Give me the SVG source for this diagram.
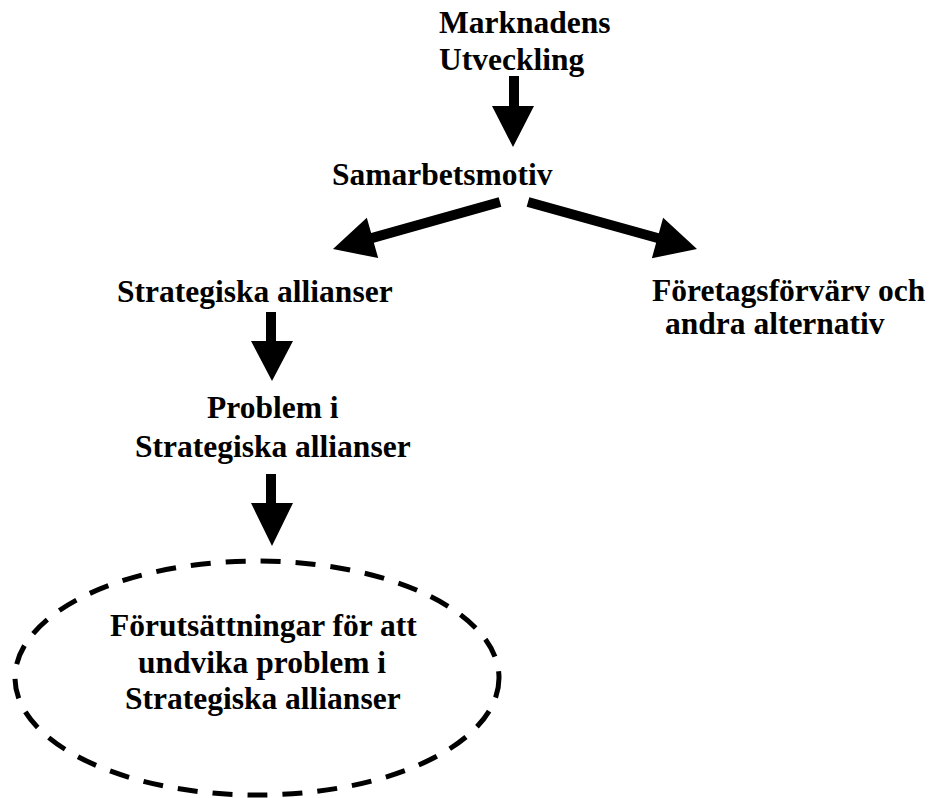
<svg xmlns="http://www.w3.org/2000/svg" width="933" height="798" viewBox="0 0 933 798">
  <style>
    .lbl { font-family: "Liberation Serif", "Times New Roman", serif; font-weight: bold; font-size: 31.5px; fill: #000; }
    .arrow { fill: #000; stroke: none; }
    .dashed { fill: none; stroke: #000; stroke-width: 5; stroke-dasharray: 20 15; }
  </style>
  <rect width="933" height="798" fill="#fff"/>

  <g id="node-marknad">
    <text class="lbl" x="439" y="33">Marknadens</text>
    <text class="lbl" x="439" y="70">Utveckling</text>
  </g>

  <g id="node-motiv">
    <text class="lbl" x="332" y="185">Samarbetsmotiv</text>
  </g>

  <g id="node-allianser">
    <text class="lbl" x="117" y="302">Strategiska allianser</text>
  </g>

  <g id="node-forvarv">
    <text class="lbl" x="652" y="301">Företagsförvärv och</text>
    <text class="lbl" x="665" y="334">andra alternativ</text>
  </g>

  <g id="node-problem">
    <text class="lbl" x="207" y="418">Problem i</text>
    <text class="lbl" x="135" y="457">Strategiska allianser</text>
  </g>

  <g id="node-forutsattningar">
    <ellipse class="dashed" cx="257" cy="678" rx="242" ry="117"/>
    <text class="lbl" x="110" y="636">Förutsättningar för att</text>
    <text class="lbl" x="138" y="673">undvika problem i</text>
    <text class="lbl" x="125" y="709">Strategiska allianser</text>
  </g>

  <g id="connectors">
    <polygon class="arrow" points="509,76 519,76 519,106 534,106 513,147 492,106 509,106"/>
    <polygon class="arrow" points="498.65,197.19 371.15,233.09 366.81,217.69 333,249 378.19,258.11 373.85,242.71 501.35,206.81"/>
    <polygon class="arrow" points="529.34,197.18 658.84,233.18 663.13,217.77 697,249 651.87,258.23 656.16,242.82 526.66,206.82"/>
    <polygon class="arrow" points="266,312 276,312 276,341 293,341 272,381 251,341 266,341"/>
    <polygon class="arrow" points="266,474 276,474 276,503 293,503 272,546 251,503 266,503"/>
  </g>
</svg>
